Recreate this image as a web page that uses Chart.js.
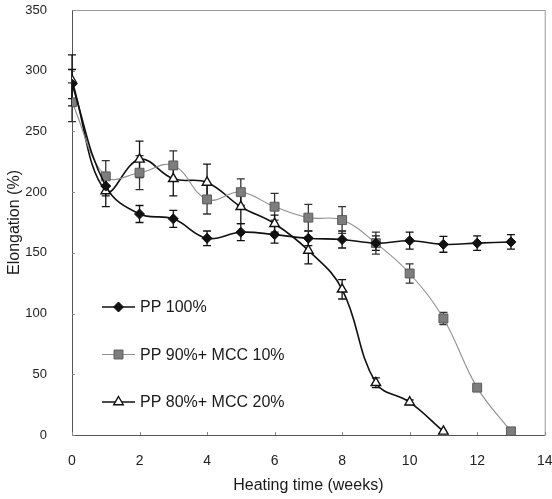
<!DOCTYPE html>
<html><head><meta charset="utf-8">
<script src="https://cdn.jsdelivr.net/npm/chart.js@4/dist/chart.umd.min.js"></script>
<style>html,body{margin:0;padding:0;background:#fff}</style>
</head><body>
<canvas id="c" width="552" height="499"></canvas>
<script>
const weeks = [0,1,2,3,4,5,6,7,8,9,10,11,12,13];
const pp100 = [289,205,182,178,162,167,165,162,161,158,160,157,158,159];
const pp100Err = [12,8,7,7,6,7,7,6,7,6,7,6.5,6,6];
const pp90 = [274,213,216,222,194,200,188,179,177,158,133,96,39,3];
const pp90Err = [16,13,14,12,12,11,11,11,11,9,8,5,2,0];
const pp80 = [292,201,227,211,208,188,174,152,120,43,27,3];
const pp80Err = [21,13,15,14,15,14,7,11,8,4,2,0];
const seriesNames = ['PP 100%','PP 90%+ MCC 10%','PP 80%+ MCC 20%'];
const xTicks = [0,2,4,6,8,10,12,14];
const yTicks = [0,50,100,150,200,250,300,350];
const xTitle = 'Heating time (weeks)';
const yTitle = 'Elongation (%)';

const FONT = "'Liberation Sans', Arial, sans-serif";
function pts(vals){ return vals.map((v,i)=>({x:weeks[i], y:v})); }

const errPlugin = {
  id:'errbars',
  beforeDatasetsDraw(chart){
    const ctx = chart.ctx, xs = chart.scales.x, ys = chart.scales.y;
    chart.data.datasets.forEach(ds=>{
      ctx.save();
      ctx.strokeStyle = ds.errColor; ctx.lineWidth = 1.3;
      ds.data.forEach((p,i)=>{
        const e = ds.err[i]; if(!e) return;
        const x = xs.getPixelForValue(p.x);
        const y1 = ys.getPixelForValue(p.y+e), y2 = ys.getPixelForValue(p.y-e);
        ctx.beginPath();
        ctx.moveTo(x,y1); ctx.lineTo(x,y2);
        ctx.moveTo(x-4,y1); ctx.lineTo(x+4,y1);
        ctx.moveTo(x-4,y2); ctx.lineTo(x+4,y2);
        ctx.stroke();
      });
      ctx.restore();
    });
  }
};

const framePlugin = {
  id:'frame',
  beforeDatasetsDraw(chart){
    const {ctx, chartArea:a} = chart;
    const xs = chart.scales.x, ys = chart.scales.y;
    ctx.save();
    ctx.strokeStyle = '#9a9a9a'; ctx.lineWidth = 1;
    ctx.strokeRect(a.left+0.5, a.top+0.5, a.right-a.left, a.bottom-a.top);
    ctx.strokeStyle = '#555';
    ctx.beginPath();
    ctx.moveTo(a.left+0.5, a.top); ctx.lineTo(a.left+0.5, a.bottom+0.5); ctx.lineTo(a.right, a.bottom+0.5);
    ctx.stroke();
    ctx.strokeStyle = '#888';
    ctx.beginPath();
    xTicks.forEach(t=>{ const x = Math.round(xs.getPixelForValue(t))+0.5; ctx.moveTo(x,a.bottom); ctx.lineTo(x,a.bottom-3); });
    yTicks.forEach(t=>{ const y = Math.round(ys.getPixelForValue(t))+0.5; ctx.moveTo(a.left,y); ctx.lineTo(a.left+3,y); });
    ctx.stroke();
    ctx.restore();
  },
  afterDraw(chart){
    const {ctx, chartArea:a} = chart;
    ctx.save();
    const lx = a.left + 30;
    chart.data.datasets.forEach((ds,i)=>{
      const y = a.top + 297 + i*47.5;
      ctx.strokeStyle = ds.borderColor; ctx.lineWidth = ds.borderWidth;
      ctx.beginPath(); ctx.moveTo(lx, y); ctx.lineTo(lx+33, y); ctx.stroke();
      ctx.fillStyle = ds.pointBackgroundColor; ctx.strokeStyle = ds.pointBorderColor; ctx.lineWidth = ds.pointBorderWidth;
      Chart.helpers.drawPoint(ctx, {pointStyle: ds.pointStyle, radius: ds.pointRadius, borderWidth: ds.pointBorderWidth}, lx+16.5, y);
      ctx.fillStyle = '#1a1a1a';
      ctx.font = '16px ' + FONT;
      ctx.textBaseline = 'middle'; ctx.textAlign = 'left';
      ctx.fillText(seriesNames[i], lx+38, y+1);
    });
    ctx.restore();
  }
};

new Chart(document.getElementById('c'), {
  type:'line',
  data:{
    datasets:[
      {label:seriesNames[0], data:pts(pp100), err:pp100Err, errColor:'#111',
       borderColor:'#111', borderWidth:1.6, pointStyle:'rectRot', pointRadius:5,
       pointBackgroundColor:'#111', pointBorderColor:'#111', pointBorderWidth:1, tension:0.4},
      {label:seriesNames[1], data:pts(pp90), err:pp90Err, errColor:'#333',
       borderColor:'#8f8f8f', borderWidth:1.1, pointStyle:'rect', pointRadius:6.3,
       pointBackgroundColor:'#7d7d7d', pointBorderColor:'#5a5a5a', pointBorderWidth:1, tension:0.4},
      {label:seriesNames[2], data:pts(pp80), err:pp80Err, errColor:'#111',
       borderColor:'#111', borderWidth:1.6, pointStyle:'triangle', pointRadius:5.5,
       pointBackgroundColor:'#fff', pointBorderColor:'#111', pointBorderWidth:1.4, tension:0.4}
    ]
  },
  options:{
    responsive:false, animation:false,
    layout:{padding:{top:10,right:5,left:0,bottom:0}},
    plugins:{legend:{display:false}, tooltip:{enabled:false}},
    scales:{
      x:{type:'linear', min:0, max:14,
        grid:{display:false}, border:{display:false},
        afterBuildTicks(s){ s.ticks = xTicks.map(v=>({value:v})); },
        ticks:{font:{family:FONT,size:14}, color:'#222', padding:10, maxRotation:0},
        title:{display:true, text:xTitle, font:{family:FONT,size:16}, color:'#1a1a1a', padding:{top:0,bottom:4}},
        afterFit(s){ s.height = 64; s.paddingLeft = 0; s.paddingRight = 0; }
      },
      y:{type:'linear', min:0, max:350,
        grid:{display:false}, border:{display:false},
        afterBuildTicks(s){ s.ticks = yTicks.map(v=>({value:v})); },
        ticks:{font:{family:FONT,size:13}, color:'#222', padding:17},
        title:{display:true, text:yTitle, font:{family:FONT,size:16}, color:'#1a1a1a', padding:{top:5,bottom:0}},
        afterFit(s){ s.width = 72; s.paddingTop = 0; s.paddingBottom = 0; }
      }
    }
  },
  plugins:[framePlugin, errPlugin]
});
</script>
</body></html>
